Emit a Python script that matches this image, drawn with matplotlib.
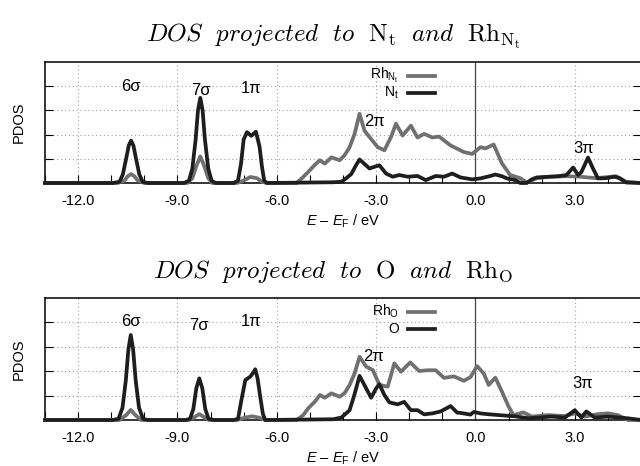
import numpy as np
import matplotlib
matplotlib.use('Agg')
import matplotlib.pyplot as plt
from matplotlib.lines import Line2D
from matplotlib.ticker import MultipleLocator

plt.rcParams['font.family'] = ['Liberation Sans', 'DejaVu Sans']
plt.rcParams['mathtext.fontset'] = 'custom'
plt.rcParams['mathtext.rm'] = 'Liberation Sans'
plt.rcParams['mathtext.it'] = 'Liberation Sans:italic'

# --- N_t panel (top) ---
e_nt = [-13.0, -10.95, -10.75, -10.65, -10.55, -10.47, -10.4, -10.33, -10.25, -10.15, -10.05, -9.9,
        -8.8, -8.65, -8.55, -8.45, -8.38, -8.31, -8.24, -8.17, -8.07, -7.97, -7.85,
        -7.3, -7.17, -7.08, -7.0, -6.9, -6.77, -6.63, -6.52, -6.45, -6.38, -6.3,
        -5.0, -4.3, -4.05, -3.9, -3.75, -3.6, -3.5, -3.4, -3.2, -3.05, -2.9, -2.7,
        -2.5, -2.3, -2.05, -1.75, -1.5, -1.2, -0.95, -0.7, -0.45, -0.1, 0.15, 0.45,
        0.6, 0.8, 0.95, 1.2, 1.35, 1.55, 1.7, 1.85, 2.25, 2.5, 2.75, 2.95, 3.1, 3.2,
        3.4, 3.55, 3.7, 3.95, 4.2, 4.35, 4.55, 5.0]
pdos_nt = [0, 0, 0.05, 0.35, 1.0, 1.55, 1.75, 1.55, 1.0, 0.35, 0.05, 0,
           0, 0.1, 0.6, 1.8, 3.0, 3.52, 3.0, 1.8, 0.6, 0.1, 0,
           0, 0.1, 0.8, 1.8, 2.1, 1.95, 2.12, 1.5, 0.7, 0.1, 0,
           0.02, 0.03, 0.05, 0.2, 0.37, 0.75, 0.97, 0.85, 0.6, 0.67, 0.73, 0.39,
           0.26, 0.33, 0.26, 0.29, 0.12, 0.29, 0.26, 0.39, 0.23, 0.15, 0.19, 0.29,
           0.35, 0.28, 0.19, 0.12, 0.0, 0.0, 0.15, 0.23, 0.26, 0.28, 0.33, 0.64, 0.33, 0.45,
           1.05, 0.6, 0.19, 0.2, 0.26, 0.2, 0.02, 0]

e_rh_nt = [-13.0, -10.8, -10.6, -10.5, -10.4, -10.3, -10.2, -10.0,
           -8.7, -8.55, -8.43, -8.31, -8.19, -8.07, -7.95,
           -7.2, -7.0, -6.8, -6.6, -6.45, -6.3,
           -5.4, -5.2, -5.0, -4.85, -4.7, -4.55, -4.35, -4.1, -3.95, -3.8, -3.65, -3.5,
           -3.35, -3.2, -2.95, -2.75, -2.55, -2.4, -2.2, -1.95, -1.75, -1.55, -1.3, -1.1,
           -0.75, -0.35, -0.1, 0.15, 0.3, 0.55, 0.8, 1.05, 1.35, 1.55, 1.85, 2.25, 2.75,
           3.15, 3.65, 4.25, 4.55, 5.0]
pdos_rh_nt = [0, 0, 0.1, 0.28, 0.37, 0.28, 0.1, 0,
              0, 0.2, 0.7, 1.1, 0.7, 0.2, 0,
              0, 0.1, 0.25, 0.2, 0.05, 0,
              0, 0.25, 0.53, 0.75, 0.94, 0.8, 1.06, 0.94, 1.15, 1.48, 2.03, 2.86,
              2.16, 1.9, 1.48, 1.35, 1.9, 2.45, 1.96, 2.37, 1.88, 2.03, 1.88, 1.92,
              1.55, 1.28, 1.2, 1.48, 1.43, 1.59, 0.81, 0.33, 0.2, 0.02, 0.2, 0.26, 0.28,
              0.26, 0.2, 0.28, 0.05, 0]

# --- O panel (bottom) ---
e_o = [-13.0, -10.95, -10.78, -10.66, -10.56, -10.48, -10.41, -10.34, -10.26, -10.16, -10.04, -9.9,
       -8.75, -8.62, -8.52, -8.43, -8.34, -8.25, -8.16, -8.06, -7.9,
       -7.3, -7.17, -7.07, -6.95, -6.8, -6.7, -6.65, -6.58, -6.5, -6.42, -6.35,
       -4.3, -4.05, -3.8, -3.65, -3.5, -3.3, -3.15, -3.0, -2.9, -2.75, -2.6, -2.35, -2.15,
       -1.95, -1.75, -1.55, -1.3, -1.05, -0.75, -0.55, -0.45, -0.15, -0.05, 0.15, 0.35,
       0.8, 1.2, 1.6, 2.3, 2.7, 3.0, 3.2, 3.35, 3.6, 4.0, 4.6, 5.0]
pdos_o = [0, 0, 0.05, 0.5, 1.6, 2.9, 3.47, 2.9, 1.6, 0.5, 0.05, 0,
          0, 0.05, 0.45, 1.3, 1.7, 1.3, 0.45, 0.05, 0,
          0, 0.05, 0.8, 1.63, 1.77, 1.95, 2.07, 1.7, 0.95, 0.25, 0,
          0.03, 0.1, 0.4, 1.06, 1.8, 1.29, 0.91, 1.29, 1.46, 1.02, 0.72, 0.64, 0.74,
          0.4, 0.4, 0.23, 0.27, 0.35, 0.57, 0.3, 0.29, 0.22, 0.33, 0.27, 0.24,
          0.19, 0.15, 0.07, 0.14, 0.1, 0.4, 0.1, 0.35, 0.1, 0.14, 0.07, 0]

e_rh_o = [-13.0, -10.75, -10.55, -10.41, -10.27, -10.1,
          -8.65, -8.48, -8.34, -8.2, -8.05,
          -7.2, -6.95, -6.75, -6.55, -6.35,
          -5.4, -5.2, -5.05, -4.85, -4.7, -4.55, -4.35, -4.1, -3.95, -3.8, -3.65, -3.5,
          -3.3, -3.1, -2.9, -2.65, -2.45, -2.25, -1.97, -1.7, -1.45, -1.2, -0.95, -0.65,
          -0.35, -0.15, 0.05, 0.25, 0.4, 0.6, 0.8, 1.0, 1.15, 1.45, 1.7, 2.2, 2.7, 3.0,
          3.3, 3.7, 4.0, 4.3, 4.6, 5.0]
pdos_rh_o = [0, 0, 0.2, 0.41, 0.2, 0,
             0, 0.12, 0.24, 0.12, 0,
             0, 0.1, 0.15, 0.1, 0,
             0, 0.2, 0.48, 0.75, 1.02, 0.91, 1.09, 0.95, 1.1, 1.43, 1.9, 2.58,
             2.18, 2.04, 1.43, 1.36, 2.31, 1.97, 2.35, 2.0, 2.03, 2.03, 1.72, 1.78,
             1.6, 1.75, 2.2, 1.9, 1.43, 1.73, 1.16, 0.55, 0.2, 0.31, 0.14, 0.2, 0.16, 0.27,
             0.14, 0.24, 0.27, 0.2, 0, 0]

xtick_vals = [-12, -9, -6, -3, 0, 3]
xtick_labels = ['-12.0', '-9.0', '-6.0', '-3.0', '0.0', '3.0']
peak_names = ['6\u03c3', '7\u03c3', '1\u03c0', '2\u03c0', '3\u03c0']

BLACK = '#1e1e1e'
GRAY = '#707070'
LW = 2.7


def draw_panel(ax, e_rh, rh, e_at, at, rh_label, at_label, peak_xy):
    ax.plot(e_rh, rh, color=GRAY, lw=LW, clip_on=False, solid_joinstyle='round', zorder=3)
    ax.plot(e_at, at, color=BLACK, lw=LW, clip_on=False, solid_joinstyle='round', zorder=4)
    ax.set_xlim(-13, 5)
    ax.set_ylim(0, 5)
    ax.set_xticks(xtick_vals)
    ax.set_xticklabels(xtick_labels, fontsize=10.5)
    ax.xaxis.set_minor_locator(MultipleLocator(1))
    ax.set_yticks([1, 2, 3, 4])
    ax.set_yticklabels([])
    ax.tick_params(axis='x', which='both', direction='in', length=6, width=0.8, pad=8)
    ax.tick_params(axis='y', direction='in', length=6, width=0.8, right=True)
    for x in [-12, -9, -6, -3, 3]:
        ax.axvline(x, color='#a0a0a0', lw=0.8, ls=(0, (1, 2.5)), zorder=1)
    for y in [1, 2, 3, 4]:
        ax.axhline(y, color='#a0a0a0', lw=0.8, ls=(0, (1, 2.5)), zorder=1)
    ax.axvline(0, color='#444444', lw=0.9, zorder=2)
    for s in ax.spines.values():
        s.set_linewidth(1.1)
    ax.set_ylabel('PDOS', fontsize=10.5, labelpad=10)
    ax.set_xlabel('$E$ \u2013 $E_\\mathrm{F}$ / eV', fontsize=10.5, labelpad=3)

    # key, gnuplot style: text right aligned, sample to the right
    for lab, col, y in [(rh_label, GRAY, 0.885), (at_label, BLACK, 0.745)]:
        ax.add_line(Line2D([0.609, 0.654], [y, y], transform=ax.transAxes,
                           color=col, lw=LW, zorder=5))
        ax.text(0.594, y, lab, transform=ax.transAxes, ha='right', va='center',
                fontsize=10, zorder=5)

    for name, (x, y) in zip(peak_names, peak_xy):
        ax.text(x, y, name, ha='center', va='center', fontsize=12, zorder=6)


fig = plt.figure(figsize=(6.4, 4.66), dpi=100)
ax1 = fig.add_axes([45 / 640, 1 - 183 / 466, 596 / 640, 121 / 466])
ax2 = fig.add_axes([45 / 640, 1 - 420 / 466, 596 / 640, 122.5 / 466])

draw_panel(ax1, e_rh_nt, pdos_rh_nt, e_nt, pdos_nt,
           r'Rh$_{\mathrm{N_t}}$', r'N$_\mathrm{t}$',
           [(-10.4, 4.0), (-8.3, 3.84), (-6.78, 3.9), (-3.06, 2.53), (3.27, 1.43)])
draw_panel(ax2, e_rh_o, pdos_rh_o, e_o, pdos_o,
           r'Rh$_\mathrm{O}$', 'O',
           [(-10.41, 4.01), (-8.34, 3.84), (-6.78, 4.0), (-3.07, 2.58), (3.25, 1.47)])

fig.text(0.52, 1 - 36 / 466, r'$DOS\ \ projected\ \ to\ \ \mathrm{N_t}\ \ and\ \ \mathrm{Rh_{N_t}}$',
         ha='center', va='center', fontsize=18, math_fontfamily='cm')
fig.text(0.52, 1 - 272 / 466, r'$DOS\ \ projected\ \ to\ \ \mathrm{O}\ \ and\ \ \mathrm{Rh_{O}}$',
         ha='center', va='center', fontsize=18, math_fontfamily='cm')

fig.savefig('out.png', dpi=100)
